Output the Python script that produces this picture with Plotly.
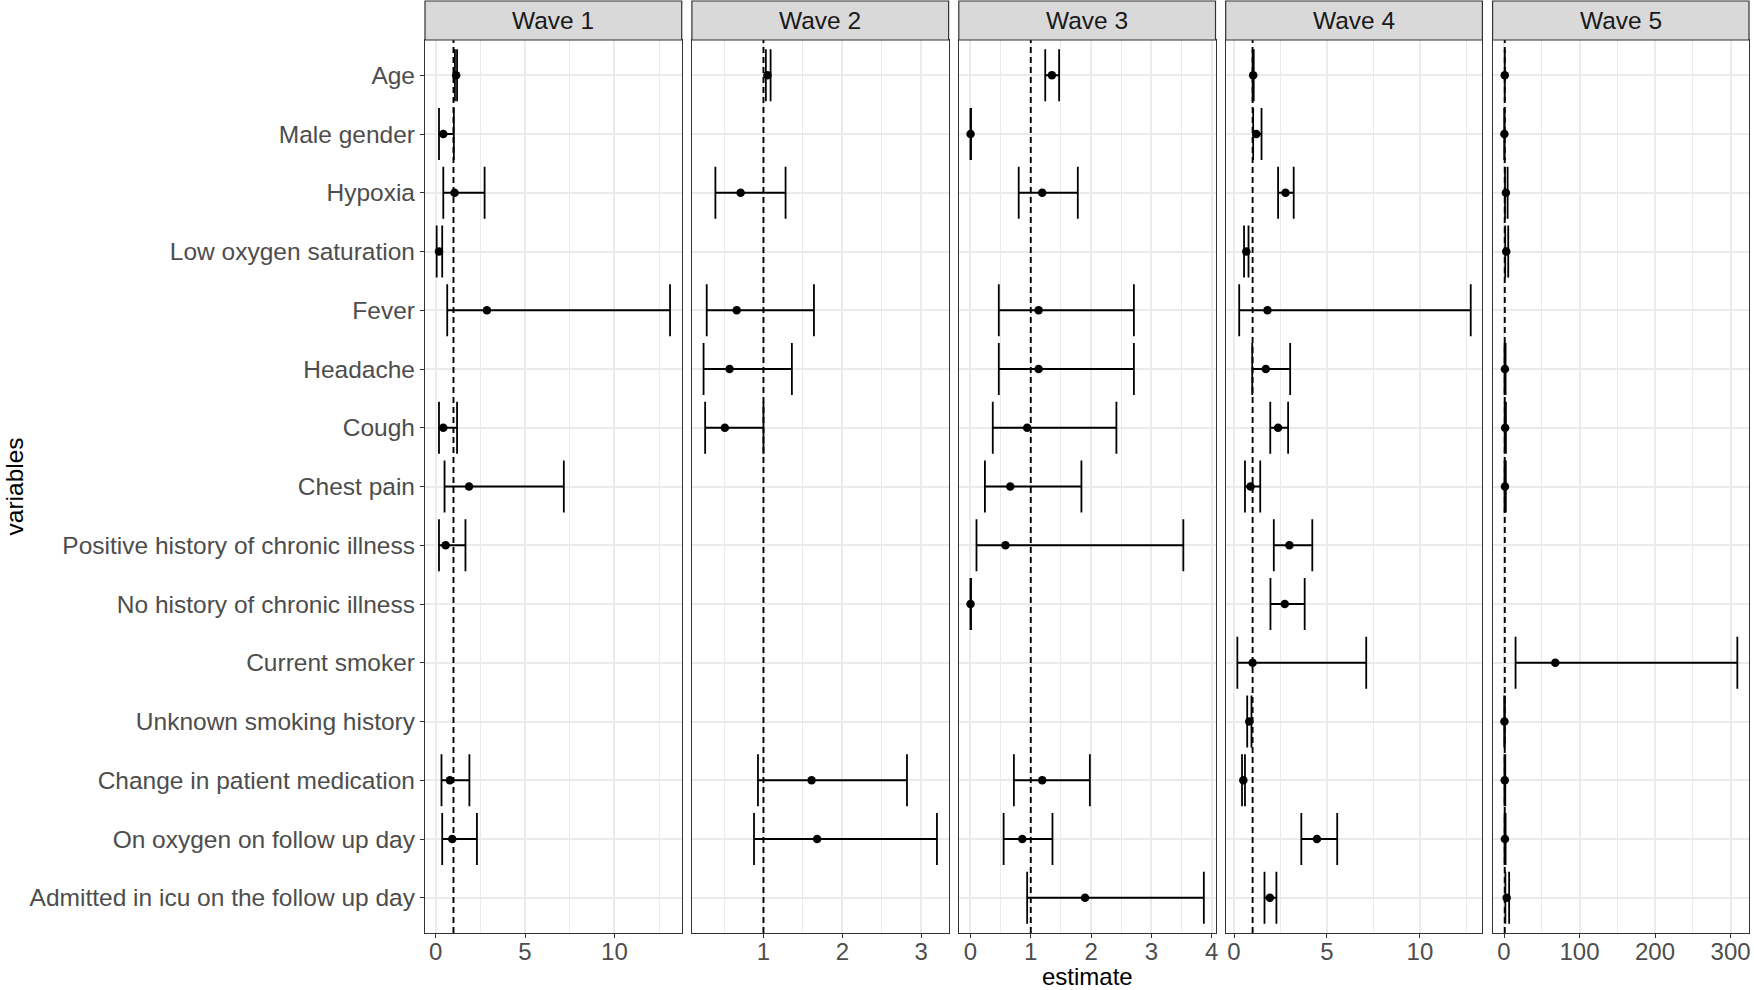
import plotly.graph_objects as go

variables = ["Age", "Male gender", "Hypoxia", "Low oxygen saturation", "Fever", "Headache",
             "Cough", "Chest pain", "Positive history of chronic illness",
             "No history of chronic illness", "Current smoker", "Unknown smoking history",
             "Change in patient medication", "On oxygen on follow up day",
             "Admitted in icu on the follow up day"]
waves = ["Wave 1", "Wave 2", "Wave 3", "Wave 4", "Wave 5"]

est_w1 = [1.15, 0.43, 1.06, 0.19, 2.87, None, 0.43, 1.87, 0.56, None, None, None, 0.80, 0.93, None]
lo_w1  = [1.08, 0.19, 0.43, 0.06, 0.65, None, 0.19, 0.50, 0.19, None, None, None, 0.33, 0.37, None]
hi_w1  = [1.20, 1.02, 2.74, 0.37, 13.11, None, 1.20, 7.17, 1.67, None, None, None, 1.89, 2.31, None]

est_w2 = [1.05, None, 0.71, None, 0.66, 0.57, 0.51, None, None, None, None, None, 1.61, 1.68, None]
lo_w2  = [1.03, None, 0.39, None, 0.28, 0.24, 0.26, None, None, None, None, None, 0.93, 0.88, None]
hi_w2  = [1.09, None, 1.28, None, 1.64, 1.36, 1.00, None, None, None, None, None, 2.82, 3.20, None]

est_w3 = [1.35, 0.002, 1.19, None, 1.13, 1.13, 0.94, 0.66, 0.58, 0.001, None, None, 1.19, 0.86, 1.90]
lo_w3  = [1.24, 0.0, 0.80, None, 0.47, 0.47, 0.37, 0.24, 0.10, 0.0, None, None, 0.72, 0.55, 0.94]
hi_w3  = [1.47, 0.01, 1.78, None, 2.71, 2.71, 2.42, 1.84, 3.53, 0.01, None, None, 1.98, 1.36, 3.87]

est_w4 = [1.03, 1.20, 2.77, 0.66, 1.80, 1.71, 2.37, 0.89, 2.98, 2.73, 1.00, 0.82, 0.50, 4.46, 1.93]
lo_w4  = [1.00, 1.03, 2.37, 0.54, 0.28, 0.98, 1.95, 0.59, 2.14, 1.96, 0.18, 0.71, 0.43, 3.62, 1.64]
hi_w4  = [1.06, 1.48, 3.21, 0.78, 12.73, 3.02, 2.91, 1.41, 4.21, 3.80, 7.11, 0.94, 0.59, 5.55, 2.28]

est_w5 = [1.0, 0.5, 2.5, 3.0, None, 1.2, 1.5, 1.3, None, None, 67.9, 0.6, 1.0, 1.2, 3.5]
lo_w5  = [0.95, 0.3, 1.3, 1.6, None, 0.7, 0.9, 0.7, None, None, 15.3, 0.3, 0.6, 0.7, 1.8]
hi_w5  = [1.05, 0.9, 4.8, 5.6, None, 2.1, 2.5, 2.4, None, None, 309.0, 1.2, 1.7, 2.1, 6.8]

major_dtick = [5, 1, 1, 5, 100]
reference_value = 1

est_all = [est_w1, est_w2, est_w3, est_w4, est_w5]
lo_all = [lo_w1, lo_w2, lo_w3, lo_w4, lo_w5]
hi_all = [hi_w1, hi_w2, hi_w3, hi_w4, hi_w5]

W, H = 1754, 990
ml, mr, mt, mb = 425, 2, 40, 57
pw = W - ml - mr
ph = H - mt - mb
step = 267.5
panel_w = 257.3

FONT = "Liberation Sans, Arial, Helvetica, sans-serif"
GRID = "#ebebeb"
BORDER = "#333333"
TS = 24.5

fig = go.Figure()
shapes = []
annotations = []
layout = {}

for i in range(5):
    est, lo, hi = est_all[i], lo_all[i], hi_all[i]
    idx = [k for k in range(len(variables)) if est[k] is not None]
    ys = [variables[k] for k in idx]
    xs = [est[k] for k in idx]
    plus = [hi[k] - est[k] for k in idx]
    minus = [est[k] - lo[k] for k in idx]
    ax = "" if i == 0 else str(i + 1)
    fig.add_trace(go.Scatter(
        x=xs, y=ys, mode="markers",
        marker=dict(color="black", size=8.5),
        error_x=dict(type="data", symmetric=False, array=plus, arrayminus=minus,
                     color="black", thickness=1.8, width=26),
        xaxis="x" + ax, yaxis="y" + ax, showlegend=False, cliponaxis=False))

    vals_lo = [v for v in lo if v is not None]
    vals_hi = [v for v in hi if v is not None]
    dmin, dmax = min(vals_lo), max(vals_hi)
    span = dmax - dmin
    xr = [dmin - 0.05 * span, dmax + 0.05 * span]
    d0 = (i * step) / pw
    d1 = min((i * step + panel_w) / pw, 1.0)
    dt = major_dtick[i]
    layout["xaxis" + ax] = dict(
        domain=[d0, d1], anchor="y" + ax, range=xr, tick0=0, dtick=dt,
        showgrid=True, gridcolor=GRID, gridwidth=1.6,
        minor=dict(tick0=0, dtick=dt / 2, showgrid=True, gridcolor=GRID, gridwidth=0.9, ticks=""),
        ticks="outside", ticklen=4, tickwidth=1, tickcolor=BORDER,
        ticklabelstandoff=-7,
        showline=True, mirror=True, linecolor=BORDER, linewidth=1.2,
        zeroline=False, tickfont=dict(size=24, color="#4d4d4d", family=FONT))
    ya = dict(
        domain=[0, 1], anchor="x" + ax, type="category",
        categoryorder="array", categoryarray=variables, range=[14.6, -0.6],
        showgrid=True, gridcolor=GRID, gridwidth=1.6,
        showline=True, mirror=True, linecolor=BORDER, linewidth=1.2, zeroline=False,
        tickfont=dict(size=TS, color="#4d4d4d", family=FONT))
    if i == 0:
        ya.update(ticks="outside", ticklen=4, tickwidth=1, tickcolor=BORDER, showticklabels=True)
    else:
        ya.update(ticks="", showticklabels=False, matches="y")
    layout["yaxis" + ax] = ya

    shapes.append(dict(type="line", xref="x" + ax, yref="y" + ax + " domain",
                       x0=reference_value, x1=reference_value, y0=0, y1=1,
                       line=dict(color="black", width=1.9, dash="6px,4px")))
    shapes.append(dict(type="rect", xref="x" + ax + " domain", yref="paper",
                       x0=0, x1=1, y0=1, y1=1 + 39 / ph,
                       fillcolor="#d9d9d9", line=dict(color=BORDER, width=1.2)))
    annotations.append(dict(text=waves[i], xref="x" + ax + " domain", yref="paper",
                            x=0.5, y=1 + 19.5 / ph, xanchor="center", yanchor="middle",
                            showarrow=False, font=dict(size=TS, color="#1a1a1a", family=FONT)))

annotations.append(dict(text="estimate", xref="paper", yref="paper", x=0.5, y=-(977 - (H - mb)) / ph,
                        xanchor="center", yanchor="middle", showarrow=False, borderpad=0,
                        font=dict(size=24, color="black", family=FONT)))
annotations.append(dict(text="variables", xref="paper", yref="paper", x=(14 - ml) / pw, y=0.5,
                        xanchor="center", yanchor="middle", textangle=-90, showarrow=False,
                        font=dict(size=TS, color="black", family=FONT)))

fig.update_layout(
    width=W, height=H,
    margin=dict(l=ml, r=mr, t=mt, b=mb),
    paper_bgcolor="white", plot_bgcolor="white",
    font=dict(family=FONT),
    shapes=shapes, annotations=annotations,
    **layout)

fig.write_html("out.html")
